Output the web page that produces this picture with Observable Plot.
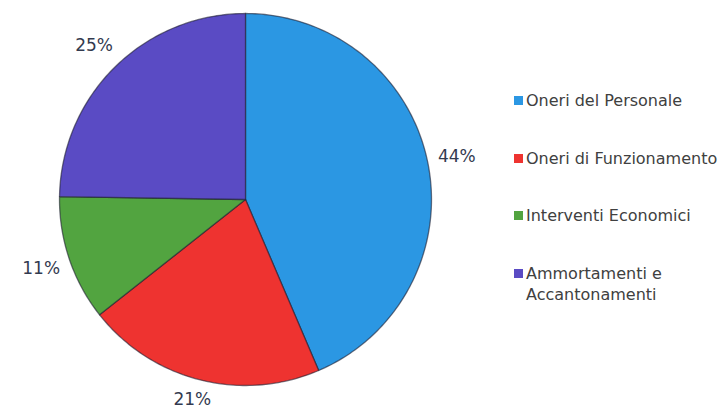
<!DOCTYPE html>
<html><head><meta charset="utf-8">
<script src="https://cdn.jsdelivr.net/npm/d3@7"></script>
<script src="https://cdn.jsdelivr.net/npm/@observablehq/plot@0.6"></script>
<style>
body{margin:0;background:#fff;}
#wrap{position:relative;width:724px;height:408px;overflow:hidden;font-family:"DejaVu Sans",sans-serif;}
.item{position:absolute;left:514px;display:flex;align-items:flex-start;font-size:16px;color:#404040;white-space:nowrap;line-height:21px}
.sw{width:9px;height:9px;margin-top:6px;margin-right:3px;flex:none}
</style></head><body><div id="wrap"></div>
<script>
const categories = ["Oneri del Personale","Oneri di Funzionamento","Interventi Economici","Ammortamenti e Accantonamenti"];
const legendLines = [["Oneri del Personale"],["Oneri di Funzionamento"],["Interventi Economici"],["Ammortamenti e","Accantonamenti"]];
const values = [44,21,11,25];
const labels = ["44%","21%","11%","25%"];
const colors = ["#2b97e3","#ee3330","#52a440","#5a4bc4"];

const W = 724, H = 408, cx = 245, cy = 199, R = 186;
const total = d3.sum(values);
const pts = [];
const labs = [];
let acc = 0;
categories.forEach((c, i) => {
  const a0 = acc / total * 2 * Math.PI;
  acc += values[i];
  const a1 = acc / total * 2 * Math.PI;
  pts.push({cat: c, x: 0, y: 0});
  const n = Math.max(2, Math.ceil((a1 - a0) / (Math.PI / 180)));
  for (let k = 0; k <= n; k++) {
    const a = a0 + (a1 - a0) * k / n;
    pts.push({cat: c, x: Math.sin(a), y: Math.cos(a)});
  }
  pts.push({cat: c, x: 0, y: 0});
  const m = (a0 + a1) / 2;
  const r = 1.16;
  labs.push({text: labels[i], x: Math.sin(m) * r, y: Math.max(Math.cos(m) * r, -(H - 9 - cy) / R)});
});

const chart = Plot.plot({
  width: W, height: H, margin: 0,
  style: {fontFamily: "DejaVu Sans, sans-serif", background: "white"},
  x: {domain: [-cx / R, (W - cx) / R], axis: null},
  y: {domain: [-(H - cy) / R, cy / R], axis: null},
  color: {domain: categories, range: colors},
  marks: [
    Plot.line(pts, {x: "x", y: "y", z: "cat", fill: "cat", stroke: "#1e1e30", strokeOpacity: 0.6, strokeWidth: 1.3, curve: "linear"}),
    Plot.text(labs, {x: "x", y: "y", text: "text", fill: "#333a4f", fontSize: 17})
  ]
});
const wrap = document.getElementById("wrap");
wrap.appendChild(chart);
legendLines.forEach((lines, i) => {
  const it = document.createElement("div");
  it.className = "item";
  it.style.top = (90 + i * 57.5) + "px";
  const sw = document.createElement("div");
  sw.className = "sw";
  sw.style.background = colors[i];
  const tx = document.createElement("div");
  tx.innerHTML = lines.join("<br>");
  it.appendChild(sw); it.appendChild(tx);
  wrap.appendChild(it);
});
</script></body></html>
